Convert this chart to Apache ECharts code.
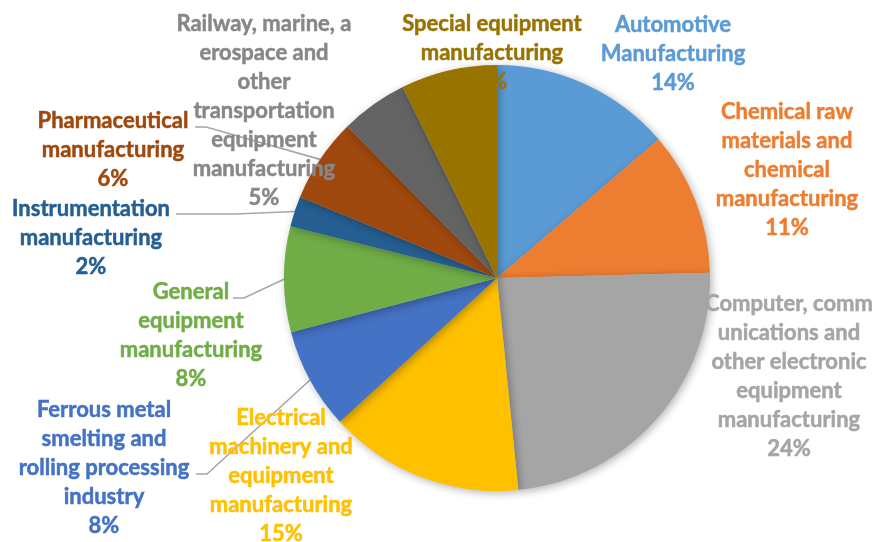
<!DOCTYPE html>
<html>
<head>
<meta charset="utf-8">
<script src="https://cdn.jsdelivr.net/npm/echarts@6/dist/echarts.min.js"></script>
<style>
html,body{margin:0;padding:0;background:#fff;}
#c{width:875px;height:542px;}
</style>
</head>
<body>
<div id="c"></div>
<script>
// Categories (as wrapped in the chart)
const categories = [
  "Automotive\nManufacturing",
  "Chemical raw\nmaterials and\nchemical\nmanufacturing",
  "Computer, comm\nunications and\nother electronic\nequipment\nmanufacturing",
  "Electrical\nmachinery and\nequipment\nmanufacturing",
  "Ferrous metal\nsmelting and\nrolling processing\nindustry",
  "General\nequipment\nmanufacturing",
  "Instrumentation\nmanufacturing",
  "Pharmaceutical\nmanufacturing",
  "Railway, marine, a\nerospace and\nother\ntransportation\nequipment\nmanufacturing",
  "Special equipment\nmanufacturing"
];
// Share values (%)
const values = [13.7, 10.9, 23.8, 14.8, 7.7, 8.0, 2.3, 6.4, 5.1, 7.3];
const sliceColors = ["#5B9BD5","#ED7D31","#A5A5A5","#FFC000","#4472C4","#70AD47","#255E91","#9E480E","#636363","#997300"];
const labelColors = ["#5B9BD5","#ED7D31","#A5A5A5","#FFC000","#4472C4","#70AD47","#255E91","#9E480E","#878787","#997300"];

// label placement (center x, top y) – styling only
const labelPos = [
  [673, 10], [787, 97], [789, 289], [281, 403], [104, 395],
  [191, 277], [91, 194], [113, 106], [264, 9], [492, 9]
];
// where a leader line meets its label (null = no leader line) – styling only
const lineAnchor = [null, null, null, null, [196, 474], [233, 298], [176, 214], [195, 127], null, null];

const chart = echarts.init(document.getElementById('c'), null, {renderer:'canvas'});
chart.setOption({
  animation: false,
  series: [{
    type: 'pie',
    center: [497, 278],
    radius: 213,
    startAngle: 90,
    clockwise: true,
    avoidLabelOverlap: false,
    emphasis: {disabled: true},
    itemStyle: {
      shadowBlur: 8,
      shadowColor: 'rgba(0,0,0,0.3)',
      shadowOffsetX: 2,
      shadowOffsetY: 2
    },
    label: {
      show: true,
      position: 'outside',
      fontFamily: 'Lato',
      fontWeight: 'bold',
      fontSize: 22,
      lineHeight: 29,
      align: 'center',
      formatter: p => p.name + '\n' + Math.round(p.value) + '%'
    },
    labelLine: {
      show: true,
      length: 10,
      length2: 8,
      lineStyle: {color: '#A6A6A6', width: 1.6}
    },
    labelLayout: function (params) {
      const i = params.dataIndex;
      const pos = labelPos[i];
      const out = {
        x: pos[0],
        y: pos[1],
        align: 'center',
        verticalAlign: 'top',
        hideOverlap: false,
        moveOverlap: null
      };
      const a = lineAnchor[i];
      if (a && params.labelLinePoints) {
        const arcPt = params.labelLinePoints[0];
        const horizontal = Math.abs(arcPt[1] - a[1]) < 5;
        const turn = horizontal ? [(a[0] + arcPt[0]) / 2, a[1]] : [a[0] + 11, a[1]];
        out.labelLinePoints = [arcPt, turn, a];
      }
      return out;
    },
    data: categories.map((c, i) => ({
      name: c,
      value: values[i],
      itemStyle: {color: sliceColors[i]},
      label: {color: labelColors[i], textBorderColor: labelColors[i], textBorderWidth: 0.5},
      labelLine: {show: lineAnchor[i] !== null}
    }))
  }]
});
</script>
</body>
</html>
